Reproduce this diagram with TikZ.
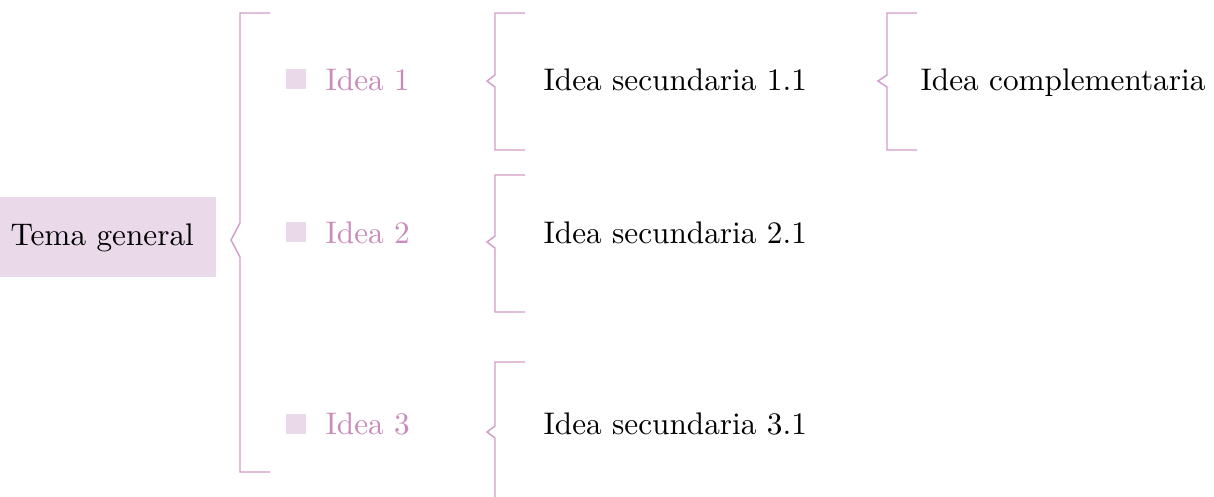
\documentclass[tikz,border=0pt]{standalone}
\definecolor{mauve}{HTML}{E9D9E9}
\definecolor{orchid}{HTML}{D29BC8}
\definecolor{ideapink}{HTML}{C98BBB}
\begin{document}
\begin{tikzpicture}[x=0.32pt,y=-0.32pt]
	\useasboundingbox (0,0) rectangle (1214,497);

	%The main box
	\fill[mauve] (0,197) rectangle (216,277);
	\node[anchor=base west, inner sep=0pt] (tema) at (10,245) {Tema general};

	%The big bracket
	\draw[orchid, line width=0.45pt] (270,13) -- (240,13) -- (240,223) -- (231,240) -- (240,257) -- (240,472) -- (270,472);

	%The three ideas
	\node[fill=mauve, inner sep=0pt, minimum size=6.4pt] (sq1) at (295.5,79) {};
	\node[anchor=base west, inner sep=0pt, text=ideapink] (idea1) at (325,90) {Idea 1};
	\node[fill=mauve, inner sep=0pt, minimum size=6.4pt] (sq2) at (295.5,232) {};
	\node[anchor=base west, inner sep=0pt, text=ideapink] (idea2) at (325,243) {Idea 2};
	\node[fill=mauve, inner sep=0pt, minimum size=6.4pt] (sq3) at (295.5,424) {};
	\node[anchor=base west, inner sep=0pt, text=ideapink] (idea3) at (325,434) {Idea 3};

	%Brackets of the secondary ideas
	\draw[orchid, line width=0.45pt] (525,13) -- (495,13) -- (495,75) -- (487,81) -- (495,87) -- (495,150) -- (525,150);
	\draw[orchid, line width=0.45pt] (525,175) -- (495,175) -- (495,236) -- (487,242) -- (495,248) -- (495,312) -- (525,312);
	\draw[orchid, line width=0.45pt] (525,362) -- (495,362) -- (495,426) -- (487,432) -- (495,438) -- (495,505);

	\node[anchor=base west, inner sep=0pt] (sec1) at (543,90) {Idea secundaria 1.1};
	\node[anchor=base west, inner sep=0pt] (sec2) at (543,243) {Idea secundaria 2.1};
	\node[anchor=base west, inner sep=0pt] (sec3) at (543,434) {Idea secundaria 3.1};

	%The complementary idea
	\draw[orchid, line width=0.45pt] (917,13) -- (887,13) -- (887,75) -- (878,81) -- (887,87) -- (887,150) -- (917,150);
	\node[anchor=base west, inner sep=0pt] (comp) at (920,90) {Idea complementaria};

\end{tikzpicture}
\end{document}
